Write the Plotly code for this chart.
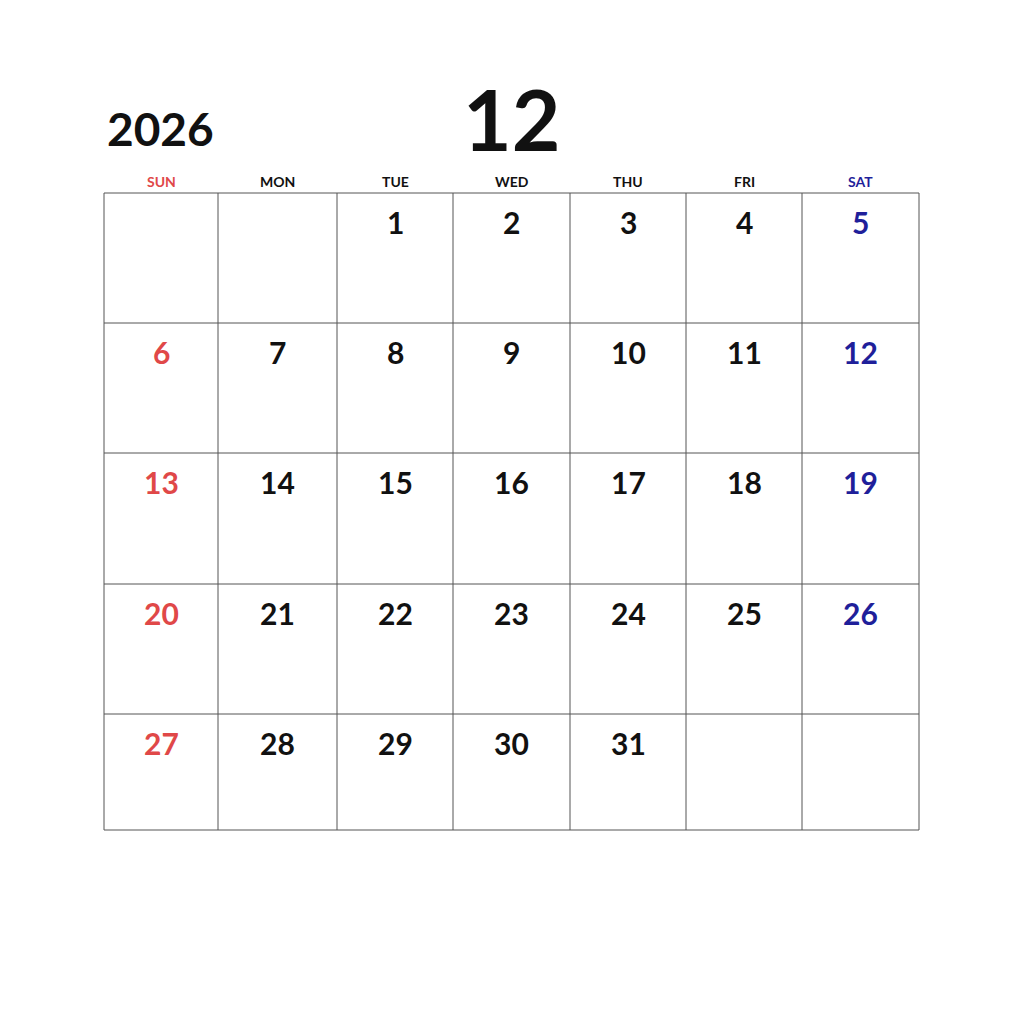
import plotly.graph_objects as go

year = "2026"
month = "12"
weekdays = ["SUN", "MON", "TUE", "WED", "THU", "FRI", "SAT"]
first_weekday = 2  # Tuesday
num_days = 31

col_edges = [104, 218, 337, 453, 570, 686, 802, 919]
row_edges = [193, 323, 453, 584, 714, 830]
RED = "#e04848"
BLUE = "#1f1f9a"
BLACK = "#111111"

def color(c):
    return RED if c == 0 else (BLUE if c == 6 else BLACK)

fig = go.Figure()
shapes = []
for x in col_edges:
    shapes.append(dict(type="line", x0=x, x1=x, y0=row_edges[0], y1=row_edges[-1],
                       line=dict(color="#555", width=1)))
for y in row_edges:
    shapes.append(dict(type="line", x0=col_edges[0], x1=col_edges[-1], y0=y, y1=y,
                       line=dict(color="#555", width=1)))

ann = []
FONT = "Lato"
for c, w in enumerate(weekdays):
    xc = (col_edges[c] + col_edges[c + 1]) / 2
    ann.append(dict(x=xc, y=181, text=f"<b>{w}</b>", showarrow=False,
                    font=dict(family=FONT, size=14, color=color(c))))
for d in range(1, num_days + 1):
    idx = first_weekday + d - 1
    r, c = divmod(idx, 7)
    xc = (col_edges[c] + col_edges[c + 1]) / 2
    ann.append(dict(x=xc, y=row_edges[r] + 29, text=f"<b>{d}</b>", showarrow=False,
                    font=dict(family=FONT, size=30, color=color(c))))
ann.append(dict(x=160, y=128, text=f"<b>{year}</b>", showarrow=False,
                font=dict(family=FONT, size=46, color=BLACK)))
ann.append(dict(x=511, y=118, text=f"<b>{month}</b>", showarrow=False,
                font=dict(family=FONT, size=84, color=BLACK)))

fig.update_layout(width=1024, height=1024, margin=dict(l=0, r=0, t=0, b=0),
                  paper_bgcolor="white", plot_bgcolor="white",
                  shapes=shapes, annotations=ann, showlegend=False,
                  xaxis=dict(range=[8, 1032], visible=False, fixedrange=True),
                  yaxis=dict(range=[1032, 8], visible=False, fixedrange=True))
fig.write_html("out.html", config={"displayModeBar": False})
